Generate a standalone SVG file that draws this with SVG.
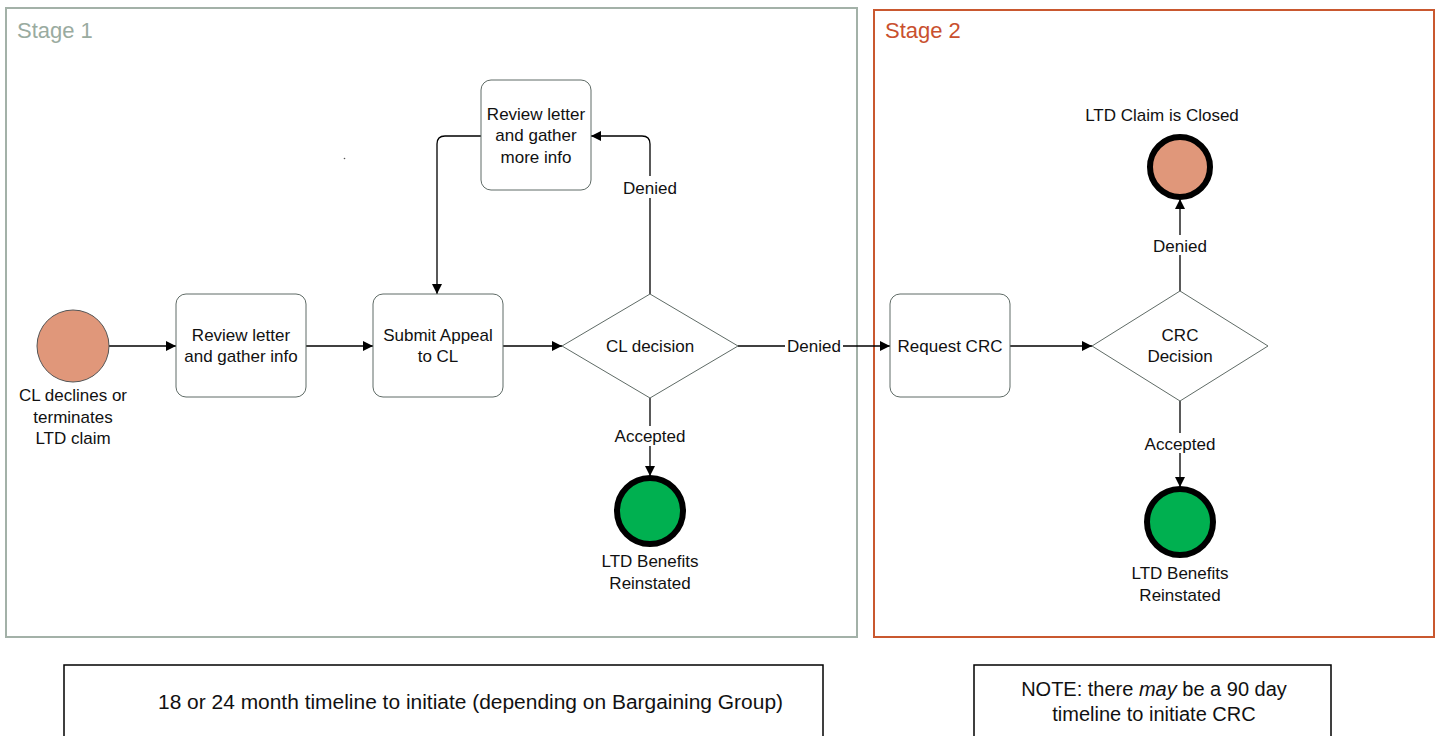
<svg xmlns="http://www.w3.org/2000/svg" width="1437" height="736" viewBox="0 0 1437 736">
<defs>
<marker id="arr" viewBox="0 0 10 10" refX="10" refY="5" markerWidth="10" markerHeight="10" markerUnits="userSpaceOnUse" orient="auto">
<path d="M0,0 L10,5 L0,10 z" fill="#000"/>
</marker>
<style>
text{font-family:"Liberation Sans",Arial,sans-serif;font-size:17px;fill:#111;text-anchor:middle}
.box{fill:#fff;stroke:#5f6b66;stroke-width:1}
.dia{fill:#fff;stroke:#5f6b66;stroke-width:1}
.edge{fill:none;stroke:#000;stroke-width:1.3;marker-end:url(#arr)}
.lbl{fill:#fff;stroke:none}
.salmon{fill:#e0977a}
.green{fill:#00b050}
.note{fill:#fff;stroke:#000;stroke-width:1.5}
</style>
</defs>
<rect width="1437" height="736" fill="#fff"/>
<g id="stage1">
<rect x="6" y="8" width="851" height="629" fill="none" stroke="#a3b1a8" stroke-width="2"/>
<text x="17" y="38" style="text-anchor:start;font-size:22px;fill:#9aaba0">Stage 1</text>
</g>
<g id="stage2">
<rect x="874" y="10" width="560" height="627" fill="none" stroke="#c9582f" stroke-width="2"/>
<text x="885" y="38" style="text-anchor:start;font-size:22px;fill:#c9502e">Stage 2</text>
</g>
<circle cx="344.5" cy="158.5" r="0.8" fill="#555"/>
<g id="connectors">
<line class="edge" x1="109" y1="346" x2="176" y2="346"/>
<line class="edge" x1="306" y1="346" x2="373" y2="346"/>
<line class="edge" x1="503" y1="346" x2="562" y2="346"/>
<path class="edge" d="M650,294 V144 Q650,136 642,136 H591"/>
<path class="edge" d="M481,136 H445 Q437,136 437,144 V294"/>
<line class="edge" x1="738" y1="346" x2="890" y2="346"/>
<line class="edge" x1="650" y1="398" x2="650" y2="476"/>
<line class="edge" x1="1010" y1="346" x2="1092" y2="346"/>
<line class="edge" x1="1180" y1="291" x2="1180" y2="199"/>
<line class="edge" x1="1180" y1="401" x2="1180" y2="487"/>
<rect class="lbl" x="618" y="176" width="64" height="22"/>
<text x="650" y="194">Denied</text>
<rect class="lbl" x="785" y="336" width="58" height="20"/>
<text x="814" y="352">Denied</text>
<rect class="lbl" x="610" y="426" width="80" height="20"/>
<text x="650" y="442">Accepted</text>
<rect class="lbl" x="1148" y="235" width="64" height="20"/>
<text x="1180" y="252">Denied</text>
<rect class="lbl" x="1140" y="433" width="80" height="20"/>
<text x="1180" y="450">Accepted</text>
</g>
<g id="start">
<circle class="salmon" cx="73" cy="346" r="36" stroke="#555" stroke-width="1"/>
<text x="73" y="401">CL declines or</text>
<text x="73" y="423">terminates</text>
<text x="73" y="444">LTD claim</text>
</g>
<g id="review1">
<rect class="box" x="176" y="294" width="130" height="103" rx="10"/>
<text x="241" y="341">Review letter</text>
<text x="241" y="362">and gather info</text>
</g>
<g id="submit">
<rect class="box" x="373" y="294" width="130" height="103" rx="10"/>
<text x="438" y="341">Submit Appeal</text>
<text x="438" y="362">to CL</text>
</g>
<g id="review2">
<rect class="box" x="481" y="80" width="110" height="110" rx="10"/>
<text x="536" y="120">Review letter</text>
<text x="536" y="141">and gather</text>
<text x="536" y="163">more info</text>
</g>
<g id="cldecision">
<polygon class="dia" points="562,346 650,294 738,346 650,398"/>
<text x="650" y="352">CL decision</text>
</g>
<g id="reinstated1">
<circle class="green" cx="650" cy="511" r="33" stroke="#000" stroke-width="6"/>
<text x="650" y="567">LTD Benefits</text>
<text x="650" y="589">Reinstated</text>
</g>
<g id="requestcrc">
<rect class="box" x="890" y="294" width="120" height="103" rx="10"/>
<text x="950" y="352">Request CRC</text>
</g>
<g id="crcdecision">
<polygon class="dia" points="1092,346 1180,291 1268,346 1180,401"/>
<text x="1180" y="341">CRC</text>
<text x="1180" y="362">Decision</text>
</g>
<g id="closed">
<circle class="salmon" cx="1180" cy="167" r="30" stroke="#000" stroke-width="6"/>
<text x="1162" y="121">LTD Claim is Closed</text>
</g>
<g id="reinstated2">
<circle class="green" cx="1180" cy="522" r="33" stroke="#000" stroke-width="6"/>
<text x="1180" y="579">LTD Benefits</text>
<text x="1180" y="601">Reinstated</text>
</g>
<g id="note1">
<rect class="note" x="64" y="665" width="759" height="80"/>
<text x="158" y="709" textLength="625" lengthAdjust="spacingAndGlyphs" style="text-anchor:start;font-size:20px">18 or 24 month timeline to initiate (depending on Bargaining Group)</text>
</g>
<g id="note2">
<rect class="note" x="974" y="665" width="357" height="80"/>
<text x="1154" y="696" style="font-size:20px">NOTE: there <tspan font-style="italic">may</tspan> be a 90 day</text>
<text x="1154" y="721" style="font-size:20px">timeline to initiate CRC</text>
</g>
</svg>
